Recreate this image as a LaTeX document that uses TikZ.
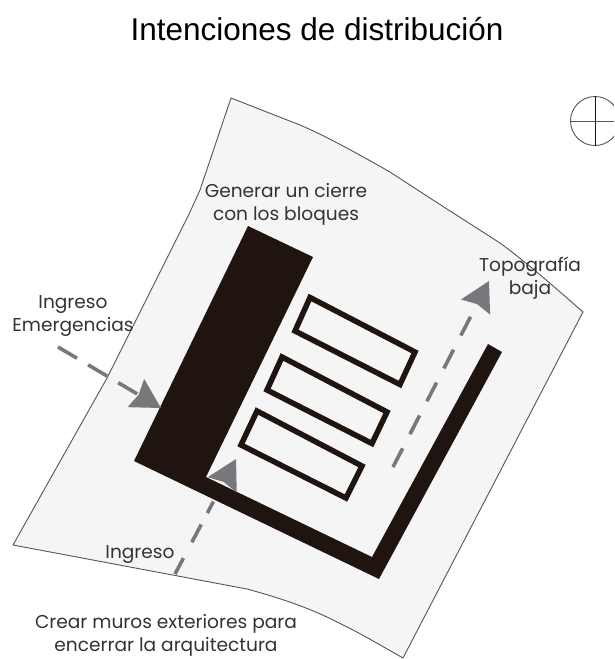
\documentclass[tikz,border=0pt]{standalone}
\usepackage{fontspec}
\setmainfont{Liberation Sans}
\newfontfamily\labelFont{Poppins}
\usetikzlibrary{arrows.meta}
\definecolor{siteFill}{HTML}{F5F5F5}
\definecolor{siteLine}{HTML}{555555}
\definecolor{blockBlack}{HTML}{1F1410}
\definecolor{arrowGrey}{HTML}{77777C}
\definecolor{labelGrey}{HTML}{333333}
\tikzset{
     siteShape/.style={fill=siteFill,draw=siteLine,line width=0.9pt,line join=round},
     solidBlock/.style={fill=blockBlack},
     hollowBlock/.style={draw=blockBlack,line width=5.5pt,line join=miter},
     flowArrow/.style={draw=arrowGrey,line width=3.6pt,-{Stealth[length=29pt,width=32pt,inset=3pt]}},
     noteLabel/.style={font=\labelFont\fontsize{18.6}{23}\selectfont,text=labelGrey,align=center,inner sep=0pt}
     }

\begin{document}
\begin{tikzpicture}[x=1pt,y=-1pt]
                    \clip (0,0) rectangle (614,659);
                    % Title
                    \node [font=\fontsize{31.5}{36}\selectfont,text=black] (titleText) at (317,29) {Intenciones de distribución};
                    % Site outline
                    \draw [siteShape] (231,98) -- (300,125) .. controls (330,138) and (360,155) .. (390,172)
                        -- (433,200) -- (500,243) .. controls (530,265) and (560,292) .. (583,312)
                        -- (403,658) .. controls (380,645) and (360,633) .. (337,622)
                        .. controls (310,608) and (280,598) .. (247,589) -- (13,545)
                        -- (107,378) -- (190,212) -- (200,190) -- cycle;
                    % North mark
                    \node [circle,draw=siteLine,line width=0.9pt,minimum size=49pt,inner sep=0pt] (northMark) at (595,121) {};
                    \draw [draw=siteLine,line width=0.9pt] (northMark.west) -- (northMark.east);
                    \draw [draw=blockBlack,line width=0.9pt] (northMark.north) -- (northMark.south);
                    % Blocks
                    \fill [solidBlock] (248,226) -- (313,257) -- (206,477) -- (372,557) -- (488,344) -- (502,352)
                        -- (379,579) -- (134,461) -- cycle;
                    \draw [hollowBlock] (310,297.5) -- (415,352) -- (400,384.5) -- (295,331) -- cycle;
                    \draw [hollowBlock] (282,357) -- (387,412) -- (372,443.5) -- (267,390) -- cycle;
                    \draw [hollowBlock] (257,411) -- (362,466) -- (346,498) -- (241,445) -- cycle;
                    % Arrow ends
                    \coordinate (emergencyStart) at (58,347);
                    \coordinate (emergencyEnd) at (161,408);
                    \coordinate (entryStart) at (175,574);
                    \coordinate (entryEnd) at (236,459);
                    \coordinate (lowStart) at (393,467);
                    \coordinate (lowEnd) at (489,281);
                    % Draw arrows
                    \draw [flowArrow,dash pattern=on 22pt off 13pt] (emergencyStart) -- (emergencyEnd);
                    \draw [flowArrow,dash pattern=on 18pt off 18pt on 20pt off 13pt on 13pt off 40pt] (entryStart) -- (entryEnd);
                    \draw [flowArrow,dash pattern=on 21pt off 16pt] (lowStart) -- (lowEnd);
                    % Labels
                    \node [noteLabel] (closureLabel) at (286,204) {Generar un cierre\\con los bloques};
                    \node [noteLabel] (lowLabel) at (530,278) {Topografía\\baja};
                    \node [noteLabel] (emergencyLabel) at (73,316) {Ingreso\\Emergencias};
                    \node [noteLabel] (entryLabel) at (140,555) {Ingreso};
                    \node [noteLabel] (wallLabel) at (166,635.5) {Crear muros exteriores para\\encerrar la arquitectura};
                \end{tikzpicture}
\end{document}
